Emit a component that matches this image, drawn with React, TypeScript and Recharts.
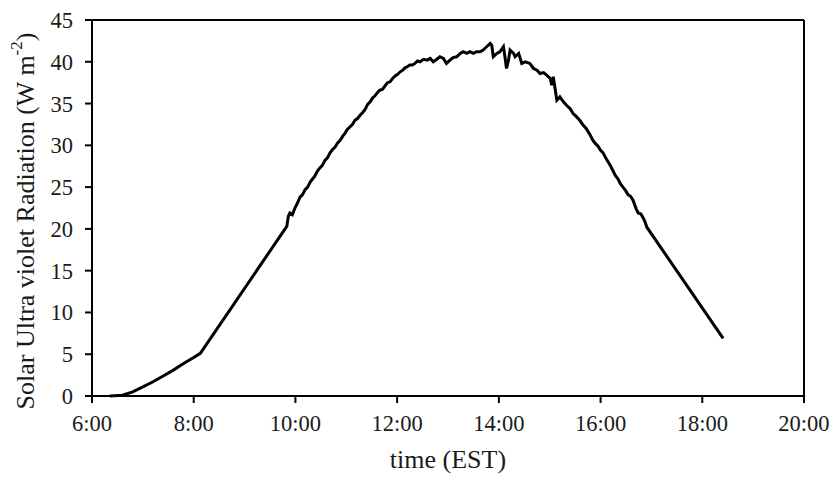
import { LineChart, Line, XAxis, YAxis, ReferenceLine, Label } from 'recharts';

const hours = [
  6.35, 6.6, 6.8, 7.0, 7.2, 7.4, 7.6, 7.8, 8.0, 8.13,
  9.83, 9.86, 9.89, 9.94, 9.99, 10.04, 10.09, 10.14, 10.19, 10.24, 10.29, 10.34, 10.38, 10.43, 10.48,
  10.53, 10.58, 10.63, 10.68, 10.73, 10.78, 10.83, 10.88, 10.93, 10.97, 11.02, 11.07, 11.12, 11.17,
  11.22, 11.27, 11.32, 11.37, 11.42, 11.47, 11.52, 11.56, 11.61, 11.66, 11.71, 11.76, 11.81, 11.86,
  11.91, 11.96, 12.01, 12.06, 12.11, 12.16, 12.2, 12.25, 12.3, 12.35, 12.4, 12.45,
  12.52, 12.59, 12.65, 12.71, 12.78, 12.84, 12.91, 12.97, 13.04, 13.1, 13.17, 13.24,
  13.3, 13.37, 13.43, 13.5, 13.56, 13.63, 13.69, 13.76, 13.83, 13.86, 13.89, 13.96, 14.02, 14.09,
  14.12, 14.15, 14.19, 14.22, 14.29, 14.32, 14.39, 14.45, 14.52, 14.61, 14.68, 14.75, 14.81, 14.88,
  14.94, 15.01, 15.04, 15.07, 15.1, 15.14, 15.2, 15.27, 15.33, 15.4, 15.46, 15.53, 15.59, 15.66,
  15.72, 15.79, 15.85, 15.9, 15.95, 16.0, 16.05, 16.1, 16.15, 16.2, 16.24, 16.29, 16.34, 16.39,
  16.44, 16.49, 16.54, 16.59, 16.64, 16.7, 16.74, 16.79, 16.83, 16.87, 16.91,
  18.41,
];

const radiation = [
  0, 0.1, 0.5, 1.1, 1.7, 2.4, 3.1, 3.9, 4.6, 5.1,
  20.3, 21.5, 21.9, 21.7, 22.5, 23.1, 23.8, 24.1, 24.7, 25.0, 25.6, 26.0, 26.3, 26.9, 27.3,
  27.6, 28.2, 28.5, 29.1, 29.5, 29.8, 30.3, 30.6, 31.1, 31.4, 31.9, 32.2, 32.5, 33.0,
  33.2, 33.6, 33.9, 34.3, 34.9, 35.2, 35.7, 35.9, 36.3, 36.6, 36.7, 37.1, 37.5, 37.6,
  38.0, 38.3, 38.5, 38.8, 39.0, 39.3, 39.4, 39.6, 39.6, 39.8, 40.1, 40.0,
  40.3, 40.2, 40.4, 40.0, 40.3, 40.6, 40.4, 39.8, 40.2, 40.5, 40.6, 41.0,
  41.2, 41.0, 41.2, 41.0, 41.2, 41.2, 41.4, 41.8, 42.2, 42.0, 40.6, 41.0, 41.2, 41.8,
  40.6, 39.2, 40.2, 41.4, 41.0, 40.6, 41.0, 39.8, 40.0, 39.8, 39.2, 39.0, 38.6, 38.7,
  38.4, 38.0, 37.2, 38.2, 37.0, 35.4, 35.8, 35.2, 34.8, 34.4, 33.8, 33.4, 33.0, 32.4,
  32.0, 31.3, 30.6, 30.2, 29.9, 29.4, 29.1, 28.5, 28.0, 27.5, 27.0, 26.4, 26.0, 25.4,
  25.0, 24.6, 24.1, 23.9, 23.4, 22.4, 21.9, 21.8, 21.4, 20.9, 20.2,
  6.9,
];

const xTicks = [6, 8, 10, 12, 14, 16, 18, 20];
const yTicks = [0, 5, 10, 15, 20, 25, 30, 35, 40, 45];

const data = hours.map((t, i) => ({ t, v: radiation[i] }));

const font = '"Times New Roman", "Liberation Serif", serif';
const ink = '#1a1a1a';

function YTitle() {
  const cx = 25;
  const cy = 221;
  return (
    <text
      x={cx}
      y={cy}
      transform={`rotate(-90, ${cx}, ${cy})`}
      textAnchor="middle"
      dominantBaseline="central"
      fontFamily={font}
      fontSize={26}
      fill={ink}
    >
      Solar Ultra violet Radiation (W m
      <tspan dy={-9} fontSize={17}>-2</tspan>
      <tspan dy={9}>)</tspan>
    </text>
  );
}

function XTitle() {
  return (
    <text x={448} y={468} textAnchor="middle" fontFamily={font} fontSize={26} fill={ink}>
      time (EST)
    </text>
  );
}

export default function App() {
  return (
    <div style={{ position: 'absolute', left: 0, top: 0, background: '#fff' }}>
      <LineChart
        width={838}
        height={477}
        data={data}
        margin={{ top: 20, right: 34, left: 0, bottom: 0 }}
      >
        <XAxis
          dataKey="t"
          type="number"
          domain={[6, 20]}
          ticks={xTicks}
          tickFormatter={(h: number) => `${h}:00`}
          height={81}
          stroke="#000"
          strokeWidth={2}
          tickSize={7}
          tickMargin={12}
          tick={{ fill: ink, fontFamily: font, fontSize: 22.5 }}
        >
          <Label content={XTitle} />
        </XAxis>
        <YAxis
          type="number"
          domain={[0, 45]}
          ticks={yTicks}
          width={92}
          stroke="#000"
          strokeWidth={2}
          tickSize={7}
          tickMargin={12}
          tick={{ fill: ink, fontFamily: font, fontSize: 22.5 }}
        >
          <Label content={YTitle} />
        </YAxis>
        <ReferenceLine y={45} stroke="#000" strokeWidth={2} />
        <ReferenceLine x={20} stroke="#000" strokeWidth={2} />
        <Line
          type="linear"
          dataKey="v"
          stroke="#000"
          strokeWidth={3}
          dot={false}
          isAnimationActive={false}
        />
      </LineChart>
    </div>
  );
}
